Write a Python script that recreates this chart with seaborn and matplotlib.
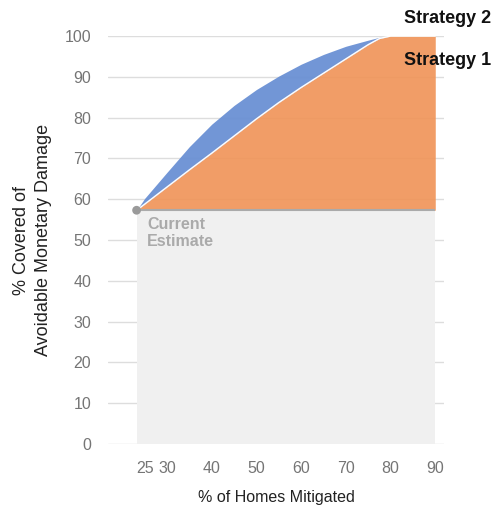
import numpy as np
import pandas as pd
import matplotlib
matplotlib.use("Agg")
import matplotlib.pyplot as plt
import seaborn as sns

# % of homes mitigated
homes_pct = [23.2, 25, 30, 35, 40, 45, 50, 55, 60, 65, 70, 75, 77.5, 80, 85, 90]
# % of avoidable monetary damage covered
strategy_1 = [57.3, 58.8, 63.0, 67.2, 71.3, 75.5, 79.7, 83.7, 87.4, 90.9, 94.4, 97.9, 99.4, 100, 100, 100]
strategy_2 = [57.3, 60.2, 66.6, 72.9, 78.4, 83.0, 86.9, 90.2, 93.1, 95.5, 97.5, 99.0, 99.7, 100, 100, 100]
current_estimate = (23.2, 57.3)

x_ticks = [25, 30, 40, 50, 60, 70, 80, 90]
y_ticks = [0, 10, 20, 30, 40, 50, 60, 70, 80, 90, 100]

df = pd.DataFrame({"homes": homes_pct, "s1": strategy_1, "s2": strategy_2})

sns.set_theme(style="white")
plt.rcParams["font.family"] = ["Liberation Sans", "DejaVu Sans"]

fig = plt.figure(figsize=(4.94, 5.08), dpi=100)
ax = fig.add_axes([0.2186, 0.126, 0.6806, 0.803])

orange = "#F0955A"
blue = "#6A90D4"
grid_c = "#DDDDDD"

ax.set_xlim(16.8, 92.0)
ax.set_ylim(0, 100)

# horizontal gridlines
for yv in y_ticks:
    ax.axhline(yv, color=grid_c, lw=1.0, zorder=0)

# shaded region below the current estimate
x0, y0 = current_estimate
ax.fill_between([x0, df["homes"].iloc[-1]], 0, y0, color="#F0F0F0", lw=0, zorder=1)

# strategy areas
ax.fill_between(df["homes"], df["s1"], df["s2"], color=blue, alpha=0.95, lw=0, zorder=2)
ax.fill_between(df["homes"], y0, df["s1"], color=orange, alpha=0.92, lw=0, zorder=2)
sns.lineplot(data=df, x="homes", y="s1", color="white", lw=1.0, ax=ax, zorder=3)

# baseline and current estimate marker
ax.plot([x0, df["homes"].iloc[-1]], [y0, y0], color="#AAAAAA", lw=1.5, zorder=3, solid_capstyle="butt")
sns.scatterplot(x=[x0], y=[y0], color="#9A9A9A", s=40, edgecolor="none", ax=ax, zorder=4, clip_on=False)

ax.text(25.6, 55.6, "Current\nEstimate", color="#AAAAAA", fontsize=11.5, fontweight="bold",
        ha="left", va="top", linespacing=1.15, zorder=5)
ax.text(83.0, 104.4, "Strategy 2", color="#111111", fontsize=13, fontweight="bold",
        ha="left", va="center", clip_on=False, zorder=5)
ax.text(83.0, 93.9, "Strategy 1", color="#111111", fontsize=13, fontweight="bold",
        ha="left", va="center", clip_on=False, zorder=5)

ax.set_xticks(x_ticks)
ax.set_xticklabels([str(v) for v in x_ticks])
ax.set_yticks(y_ticks)
ax.set_yticklabels([str(v) for v in y_ticks])
ax.tick_params(axis="both", length=0, labelsize=11.5, labelcolor="#757575")
ax.tick_params(axis="x", pad=12)
ax.tick_params(axis="y", pad=12)

ax.set_xlabel("% of Homes Mitigated", fontsize=11.5, color="#222222", labelpad=10)
ax.set_ylabel("% Covered of\nAvoidable Monetary Damage", fontsize=13, color="#222222",
              labelpad=9, linespacing=1.4)

for s in ax.spines.values():
    s.set_visible(False)
ax.grid(False)

fig.savefig("out.png", dpi=100)
